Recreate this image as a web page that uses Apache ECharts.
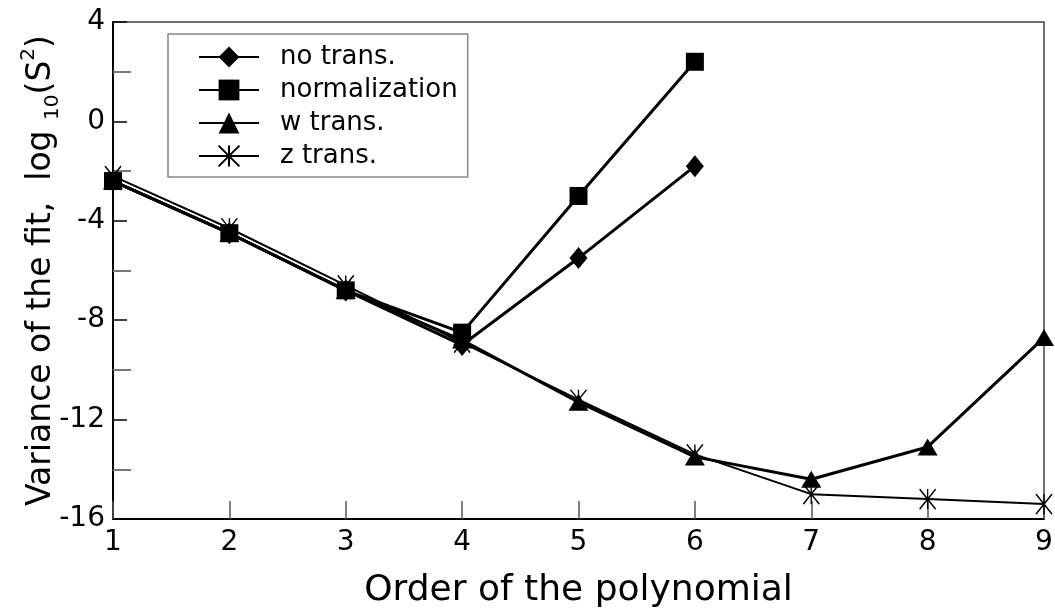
<!DOCTYPE html>
<html>
<head>
<meta charset="utf-8">
<script src="https://cdn.jsdelivr.net/npm/echarts@6/dist/echarts.min.js"></script>
<style>
  html, body { margin: 0; padding: 0; background: #fff; }
  #main { width: 1055px; height: 613px; }
</style>
</head>
<body>
<div id="main"></div>
<script>
// polynomial order on x, log10(S^2) on y
orders = [1, 2, 3, 4, 5, 6, 7, 8, 9];
noTrans = [-2.4, -4.5, -6.8, -9.0, -5.5, -1.8];
normalization = [-2.4, -4.5, -6.8, -8.5, -3.0, 2.4];
wTrans = [-2.4, -4.5, -6.8, -8.8, -11.3, -13.5, -14.4, -13.1, -8.7];
zTrans = [-2.2, -4.3, -6.6, -8.9, -11.2, -13.4, -15.0, -15.2, -15.4];
seriesNames = ['no trans.', 'normalization', 'w trans.', 'z trans.'];

function pairs(vals) {
    return vals.map(function (v, i) { return [orders[i], v]; });
}

var font = 'DejaVu Sans';
var starPath = 'path://M0,0 L10,12 M10,0 L0,12 M5,0 L5,12';

myChart = echarts.init(document.getElementById('main'));
option = {
    backgroundColor: '#fff',
    textStyle: { fontFamily: font, color: '#000' },
    grid: {
        left: 113,
        right: 11,
        top: 22,
        bottom: 94,
        outerBoundsMode: 'none',
        containLabel: false,
        show: true,
        borderColor: '#444',
        borderWidth: 1.5
    },
    legend: {
        data: seriesNames,
        orient: 'vertical',
        left: 168,
        top: 34,
        padding: [10, 10, 8, 30],
        itemWidth: 60,
        itemHeight: 26,
        itemGap: 7,
        borderColor: '#888',
        borderWidth: 1.5,
        textStyle: { fontFamily: font, fontSize: 26, color: '#000', padding: [0, 0, 0, 16] }
    },
    xAxis: {
        type: 'value',
        min: 1,
        max: 9,
        interval: 1,
        name: 'Order of the polynomial',
        nameLocation: 'middle',
        nameGap: 54,
        nameMoveOverlap: false,
        nameTextStyle: { fontFamily: font, fontSize: 36, color: '#000' },
        axisLine: { onZero: false, lineStyle: { color: '#000', width: 2 } },
        axisTick: { inside: true, length: 18, lineStyle: { color: '#555', width: 1.5 } },
        axisLabel: { fontFamily: font, fontSize: 28, color: '#000', margin: 10 },
        splitLine: { show: false }
    },
    yAxis: {
        type: 'value',
        min: -16,
        max: 4,
        interval: 4,
        name: 'Variance of the fit,  log {sub|10}(S{sup|2})',
        nameLocation: 'middle',
        nameGap: 50,
        nameMoveOverlap: false,
        nameTextStyle: {
            fontFamily: font, fontSize: 33, color: '#000', lineHeight: 44,
            rich: {
                sub: { fontFamily: font, fontSize: 20, color: '#000', verticalAlign: 'bottom' },
                sup: { fontFamily: font, fontSize: 20, color: '#000', verticalAlign: 'top' }
            }
        },
        axisLine: { onZero: false, lineStyle: { color: '#000', width: 2 } },
        axisTick: { inside: true, length: 14, lineStyle: { color: '#000', width: 1.5 } },
        minorTick: { show: true, splitNumber: 2, length: 18, lineStyle: { color: '#777', width: 2 } },
        axisLabel: { fontFamily: font, fontSize: 28, color: '#000', margin: 8 },
        splitLine: { show: false },
        minorSplitLine: { show: false }
    },
    series: [
        {
            name: seriesNames[0],
            type: 'line',
            data: pairs(noTrans),
            symbol: 'diamond',
            symbolSize: [18, 22],
            lineStyle: { color: '#000', width: 3 },
            itemStyle: { color: '#000' }
        },
        {
            name: seriesNames[1],
            type: 'line',
            data: pairs(normalization),
            symbol: 'rect',
            symbolSize: 18,
            lineStyle: { color: '#000', width: 3 },
            itemStyle: { color: '#000' }
        },
        {
            name: seriesNames[2],
            type: 'line',
            data: pairs(wTrans),
            symbol: 'triangle',
            symbolSize: [20, 17],
            lineStyle: { color: '#000', width: 3 },
            itemStyle: { color: '#000' }
        },
        {
            name: seriesNames[3],
            type: 'line',
            data: pairs(zTrans),
            symbol: starPath,
            symbolSize: [16, 20],
            lineStyle: { color: '#000', width: 2 },
            itemStyle: { color: 'none', borderColor: '#000', borderWidth: 1.5 }
        }
    ]
};
myChart.setOption(option);
</script>
</body>
</html>
